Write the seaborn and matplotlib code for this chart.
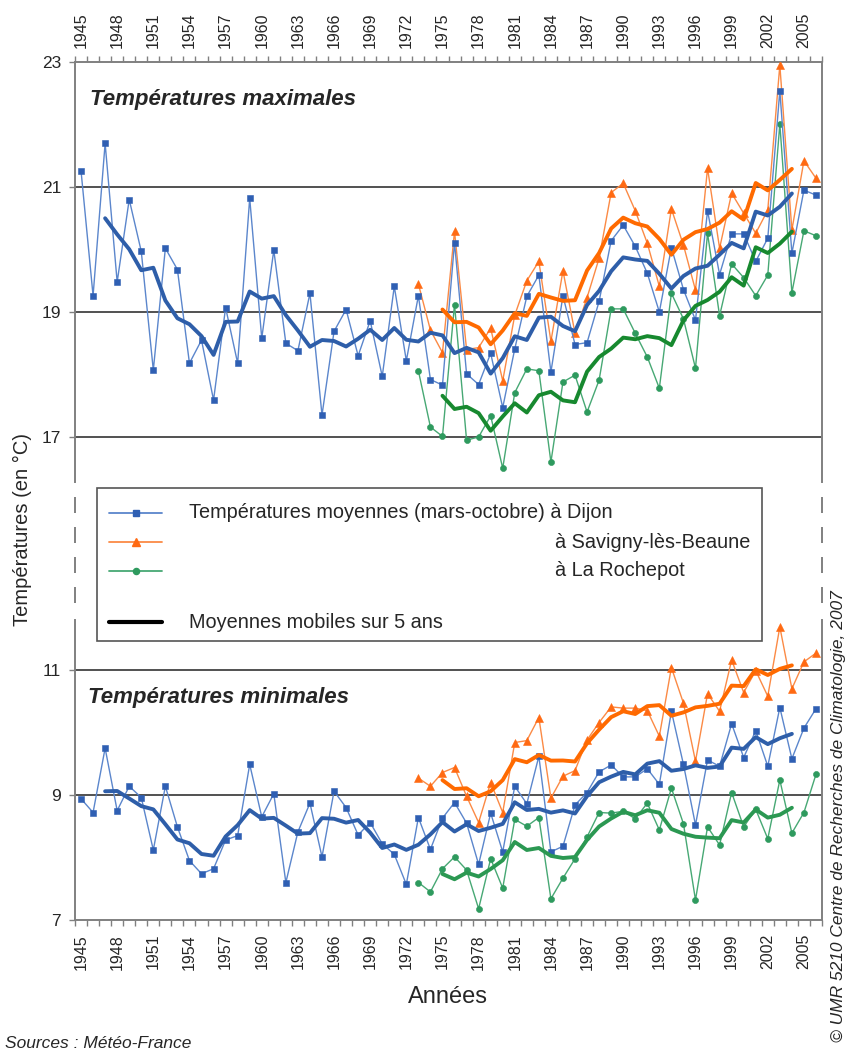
import numpy as np
import pandas as pd
import matplotlib
matplotlib.use("Agg")
import matplotlib.pyplot as plt
import seaborn as sns
from matplotlib.lines import Line2D
from matplotlib.patches import Rectangle

# ---------------- data ----------------
years_dijon = list(range(1945, 2007))
years_sites = list(range(1973, 2007))

dijon_max = [21.26, 19.26, 21.70, 19.48, 20.80,
             19.97, 18.07, 20.02, 19.68, 18.18,
             18.55, 17.59, 19.07, 18.18, 20.82,
             18.58, 19.99, 18.50, 18.38, 19.30,
             17.35, 18.69, 19.04, 18.30, 18.86,
             17.97, 19.41, 18.22, 19.26, 17.92,
             17.83, 20.11, 18.01, 17.84, 18.34,
             17.47, 18.41, 19.25, 19.59, 18.04,
             19.26, 18.48, 18.51, 19.17, 20.14,
             20.39, 20.05, 19.62, 19.00, 20.03,
             19.36, 18.87, 20.62, 19.60, 20.25,
             20.25, 19.81, 20.18, 22.54, 19.94,
             20.95, 20.87]
savigny_max = [19.45, 18.71, 18.35, 20.29, 18.40, 18.43, 18.74, 17.90, 18.95, 19.50,
               19.81, 18.53, 19.66, 18.66, 19.23, 19.86, 20.91, 21.06, 20.62, 20.10,
               19.41, 20.65, 20.07, 19.35, 21.30, 20.02, 20.90, 20.58, 20.26, 20.63,
               22.95, 20.31, 21.42, 21.14]
rochepot_max = [18.06, 17.16, 17.01, 19.12, 16.95, 17.00, 17.34, 16.50, 17.71, 18.09,
                18.06, 16.60, 17.88, 17.99, 17.40, 17.91, 19.05, 19.05, 18.66, 18.28,
                17.78, 19.30, 18.89, 18.10, 20.26, 18.94, 19.77, 19.55, 19.26, 19.59,
                22.01, 19.31, 20.30, 20.22]

dijon_min = [8.94, 8.72, 9.75, 8.75, 9.14,
             8.96, 8.12, 9.14, 8.49, 7.95,
             7.74, 7.82, 8.28, 8.35, 9.49,
             8.65, 9.02, 7.60, 8.41, 8.87,
             8.01, 9.06, 8.80, 8.36, 8.56,
             8.22, 8.05, 7.57, 8.64, 8.13,
             8.63, 8.88, 8.55, 7.89, 8.71,
             8.09, 9.14, 8.86, 9.62, 8.09,
             8.18, 8.84, 9.04, 9.37, 9.48,
             9.29, 9.29, 9.42, 9.17, 10.34,
             9.49, 8.52, 9.56, 9.46, 10.14,
             9.60, 10.03, 9.46, 10.40, 9.58,
             10.07, 10.38]
savigny_min = [9.27, 9.14, 9.36, 9.44, 8.98, 8.56, 9.20, 8.72, 9.84, 9.87,
               10.24, 8.95, 9.30, 9.39, 9.88, 10.16, 10.41, 10.39, 10.39, 10.35,
               9.94, 11.04, 10.47, 9.54, 10.62, 10.34, 11.16, 10.64, 10.99, 10.58,
               11.69, 10.70, 11.13, 11.27]
rochepot_min = [7.60, 7.45, 7.82, 8.01, 7.80, 7.18, 7.98, 7.51, 8.61, 8.50,
                8.64, 7.34, 7.67, 7.98, 8.33, 8.72, 8.71, 8.74, 8.62, 8.87,
                8.44, 9.11, 8.54, 7.32, 8.49, 8.20, 9.04, 8.49, 8.77, 8.30,
                9.24, 8.39, 8.72, 9.33]

year_labels = list(range(1945, 2006, 3))
top_yticks = [17, 19, 21, 23]
bot_yticks = [7, 9, 11]

# ---------------- style ----------------
sns.set_style("white")
plt.rcParams['font.family'] = ['Liberation Sans', 'DejaVu Sans']

BLUE_L, BLUE_M, BLUE_MA = '#5b86cc', '#2f5fb3', '#2e5ea9'
ORANGE_L, ORANGE_M, ORANGE_MA = '#fb8a45', '#ff6a13', '#ff6a00'
GREEN_L, GREEN_M = '#47a874', '#2e9a5e'
SPINE = '#808080'

W_PX, H_PX = 846, 1050
fig = plt.figure(figsize=(W_PX / 100, H_PX / 100), dpi=100)

def fx(x):
    return x / W_PX

def fy(y):
    return 1 - y / H_PX

L, R = 75, 822
ax_top = fig.add_axes([fx(L), fy(482), fx(R - L), (482 - 62) / H_PX])
ax_mid = fig.add_axes([fx(L), fy(620), fx(R - L), (620 - 482) / H_PX])
ax_bot = fig.add_axes([fx(L), fy(920), fx(R - L), (920 - 620) / H_PX])


def draw_site(ax, yrs, vals, lc, mc, marker, ms):
    df = pd.DataFrame({'year': yrs, 'temp': vals})
    sns.lineplot(data=df, x='year', y='temp', ax=ax, color=lc, lw=1.0,
                 marker=marker, markersize=ms, markerfacecolor=mc,
                 markeredgecolor=mc, markeredgewidth=0.4, zorder=3,
                 legend=False)


def draw_ma(ax, yrs, vals, color):
    df = pd.DataFrame({'year': yrs, 'temp': vals})
    df['ma'] = df['temp'].rolling(5, center=True).mean()
    d = df.dropna()
    sns.lineplot(x=d['year'], y=d['ma'], ax=ax, color=color, lw=2.8,
                 zorder=4, legend=False)


# top panel (maximales)
draw_site(ax_top, years_sites, rochepot_max, GREEN_L, GREEN_M, 'o', 4.4)
draw_site(ax_top, years_sites, savigny_max, ORANGE_L, ORANGE_M, '^', 5.2)
draw_site(ax_top, years_dijon, dijon_max, BLUE_L, BLUE_M, 's', 4.4)
draw_ma(ax_top, years_sites, rochepot_max, '#17892f')
draw_ma(ax_top, years_dijon, dijon_max, BLUE_MA)
draw_ma(ax_top, years_sites, savigny_max, ORANGE_MA)

# bottom panel (minimales)
draw_site(ax_bot, years_sites, rochepot_min, GREEN_L, GREEN_M, 'o', 4.4)
draw_site(ax_bot, years_sites, savigny_min, ORANGE_L, ORANGE_M, '^', 5.2)
draw_site(ax_bot, years_dijon, dijon_min, BLUE_L, BLUE_M, 's', 4.4)
draw_ma(ax_bot, years_sites, rochepot_min, '#2b9852')
draw_ma(ax_bot, years_dijon, dijon_min, BLUE_MA)
draw_ma(ax_bot, years_sites, savigny_min, ORANGE_MA)

for ax in (ax_top, ax_mid, ax_bot):
    ax.set_xlim(1944.5, 2006.5)
    ax.set_xlabel('')
    ax.set_ylabel('')

ax_top.set_ylim(23 - 420 / 62.5, 23)
ax_bot.set_ylim(7, 7 + 300 / 62.5)

for v in [17, 19, 21]:
    ax_top.axhline(v, color='#222222', lw=1.1, zorder=2)
for v in [9, 11]:
    ax_bot.axhline(v, color='#222222', lw=1.1, zorder=2)

# spines
ax_top.spines['bottom'].set_visible(False)
ax_bot.spines['top'].set_visible(False)
for ax in (ax_top, ax_bot):
    for s in ax.spines.values():
        s.set_color(SPINE)
        s.set_linewidth(1.4)

# x ticks
minor = np.arange(1944.5, 2007, 1.0)
ax_top.xaxis.tick_top()
ax_top.set_xticks(year_labels)
ax_top.set_xticklabels([str(y) for y in year_labels], rotation=90, fontsize=11.5)
ax_top.set_xticks(minor, minor=True)
ax_top.tick_params(axis='x', which='major', length=0, pad=10, top=True, bottom=False)
ax_top.tick_params(axis='x', which='minor', length=4, width=1, color=SPINE,
                   direction='out', top=True, bottom=False)

ax_bot.set_xticks(year_labels)
ax_bot.set_xticklabels([str(y) for y in year_labels], rotation=90, fontsize=11.5)
ax_bot.set_xticks(minor, minor=True)
ax_bot.tick_params(axis='x', which='major', length=0, pad=10)
ax_bot.tick_params(axis='x', which='minor', length=4, width=1, color=SPINE,
                   direction='out', bottom=True)

# y ticks
ax_top.set_yticks(top_yticks)
ax_top.set_yticklabels([str(v) for v in top_yticks], fontsize=12.5)
ax_bot.set_yticks(bot_yticks)
ax_bot.set_yticklabels([str(v) for v in bot_yticks], fontsize=12.5)
for ax in (ax_top, ax_bot):
    ax.tick_params(axis='y', length=4, width=1, color=SPINE, direction='out',
                   pad=6, left=True)

# middle gap: dashed spines
ax_mid.set_ylim(620, 482)
ax_mid.axis('off')
for (a, b) in [(497, 513), (527, 543), (557, 573), (587, 603)]:
    for xx in (1944.5, 2006.5):
        ax_mid.plot([xx, xx], [a, b], color=SPINE, lw=1.4, clip_on=False,
                    solid_capstyle='butt')

# panel titles
ax_top.text(0.02, 0.91, 'Températures maximales', transform=ax_top.transAxes,
            fontsize=16, fontweight='bold', fontstyle='italic',
            ha='left', va='center')
ax_bot.text(0.017, 0.74, 'Températures minimales', transform=ax_bot.transAxes,
            fontsize=16, fontweight='bold', fontstyle='italic',
            ha='left', va='center')

# legend (manual, reproducing the original layout)
fig.add_artist(Rectangle((fx(97), fy(641)), fx(762 - 97), (641 - 488) / H_PX,
                         transform=fig.transFigure, facecolor='white',
                         edgecolor='#555555', lw=1.2, zorder=5))
leg_rows = [
    (513, BLUE_L, BLUE_M, 's', 4.4, 1.3),
    (542, ORANGE_L, ORANGE_M, '^', 5.2, 1.3),
    (571, GREEN_L, GREEN_M, 'o', 4.4, 1.3),
]
for (yy, lc, mc, mk, ms, lw) in leg_rows:
    fig.add_artist(Line2D([fx(109), fx(136), fx(162)], [fy(yy)] * 3,
                          transform=fig.transFigure, color=lc, lw=lw,
                          marker=mk, markevery=[1], markersize=ms,
                          markerfacecolor=mc, markeredgecolor=mc, zorder=6))
fig.add_artist(Line2D([fx(109), fx(162)], [fy(622)] * 2, transform=fig.transFigure,
                      color='black', lw=3, zorder=6))
leg_font = 14.3
fig.text(fx(189), fy(513), 'Températures moyennes (mars-octobre) à Dijon',
         fontsize=leg_font, va='center', ha='left', zorder=7)
fig.text(fx(555), fy(542), 'à Savigny-lès-Beaune', fontsize=leg_font,
         va='center', ha='left', zorder=7)
fig.text(fx(555), fy(571), 'à La Rochepot', fontsize=leg_font,
         va='center', ha='left', zorder=7)
fig.text(fx(189), fy(622), 'Moyennes mobiles sur 5 ans', fontsize=leg_font,
         va='center', ha='left', zorder=7)

# axis titles and credits
fig.text(fx(22), fy(530), 'Températures (en °C)', rotation=90, fontsize=14.5,
         ha='center', va='center')
fig.text(fx(448), fy(997), 'Années', fontsize=17, ha='center', va='center')
fig.text(fx(5), fy(1043), 'Sources : Météo-France', fontsize=12.5,
         fontstyle='italic', ha='left', va='center')
fig.text(fx(838), fy(1042), '© UMR 5210 Centre de Recherches de Climatologie, 2007',
         rotation=90, fontsize=12.5, fontstyle='italic', ha='center', va='bottom')

fig.savefig('out.png', dpi=100)
